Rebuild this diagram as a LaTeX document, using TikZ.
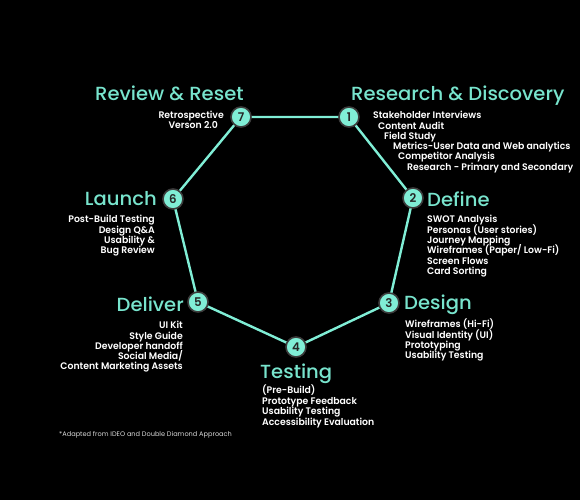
\documentclass[tikz,border=0pt]{standalone}
\usepackage{fontspec}
\setmainfont{Poppins}
\newfontfamily\headfont[FakeStretch=1.03]{Poppins Medium}
\newfontfamily\listfont[FakeStretch=0.98]{Poppins SemiBold}
\newfontfamily\notefont[FakeStretch=1.0]{Poppins}
\definecolor{aqua}{RGB}{128,238,214}
\definecolor{headc}{RGB}{120,228,205}
\definecolor{ringc}{RGB}{60,60,60}
\tikzset{
  stage/.style={circle,fill=aqua,draw=ringc,line width=1.6pt,minimum size=20pt,inner sep=0pt,font=\listfont\fontsize{12}{12}\selectfont,text=black!85},
  link/.style={aqua,line width=2.4pt},
  head/.style={inner sep=0pt,text=headc,font=\headfont\fontsize{19}{19}\selectfont},
  lst/.style={inner sep=0pt,text=white,font=\listfont\fontsize{9.5}{9.5}\selectfont},
  note/.style={inner sep=0pt,text=white!85!black,font=\notefont\fontsize{6.6}{6.6}\selectfont}
}
\begin{document}
\begin{tikzpicture}[x=1pt,y=-1pt]
\fill[black] (0,0) rectangle (580,500);
\useasboundingbox (0,0) rectangle (580,500);
% stage circles positions
\coordinate (p1) at (349,117);
\coordinate (p2) at (413,198);
\coordinate (p3) at (389,303);
\coordinate (p4) at (296,347);
\coordinate (p5) at (198,302);
\coordinate (p6) at (173,199);
\coordinate (p7) at (241,117);
\draw[link] (p1) -- (p2) -- (p3) -- (p4) -- (p5) -- (p6) -- (p7) -- cycle;
\node[stage] (s1) at (p1) {1};
\node[stage] (s2) at (p2) {2};
\node[stage] (s3) at (p3) {3};
\node[stage] (s4) at (p4) {4};
\node[stage] (s5) at (p5) {5};
\node[stage] (s6) at (p6) {6};
\node[stage] (s7) at (p7) {7};
% headings
\node[head,anchor=base west] (h1) at (351,101) {Research \& Discovery};
\node[head,anchor=base west] (h2) at (427,206) {Define};
\node[head,anchor=base west] (h3) at (404,309) {Design};
\node[head,anchor=base west] (h4) at (260,378) {Testing};
\node[head,anchor=base east] (h5) at (184,311) {Deliver};
\node[head,anchor=base east] (h6) at (157,205) {Launch};
\node[head,anchor=base west] (h7) at (95,101) {Review \& Reset};
% research list
\node[lst,anchor=base west] (r1) at (373,118) {Stakeholder Interviews};
\node[lst,anchor=base west] (r2) at (378,129) {Content Audit};
\node[lst,anchor=base west] (r3) at (384,139) {Field Study};
\node[lst,anchor=base west] (r4) at (393,149) {Metrics-User Data and Web analytics};
\node[lst,anchor=base west] (r5) at (398,159) {Competitor Analysis};
\node[lst,anchor=base west] (r6) at (407,170) {Research - Primary and Secondary};
% define list
\node[lst,anchor=base west] (d1) at (427,222.5) {SWOT Analysis};
\node[lst,anchor=base west] (d2) at (427,233) {Personas (User stories)};
\node[lst,anchor=base west] (d3) at (427,243) {Journey Mapping};
\node[lst,anchor=base west] (d4) at (427,253.5) {Wireframes (Paper/ Low-Fi)};
\node[lst,anchor=base west] (d5) at (427,264) {Screen Flows};
\node[lst,anchor=base west] (d6) at (427,274) {Card Sorting};
% design list
\node[lst,anchor=base west] (g1) at (405,327) {Wireframes (Hi-Fi)};
\node[lst,anchor=base west] (g2) at (405,338) {Visual Identity (UI)};
\node[lst,anchor=base west] (g3) at (405,348) {Prototyping};
\node[lst,anchor=base west] (g4) at (405,358) {Usability Testing};
% testing list
\node[lst,anchor=base west] (t1) at (262,393) {(Pre-Build)};
\node[lst,anchor=base west] (t2) at (262,404) {Prototype Feedback};
\node[lst,anchor=base west] (t3) at (262,414) {Usability Testing};
\node[lst,anchor=base west] (t4) at (262,425) {Accessibility Evaluation};
% deliver list
\node[lst,anchor=base east] (v1) at (183,328) {UI Kit};
\node[lst,anchor=base east] (v2) at (183,339) {Style Guide};
\node[lst,anchor=base east] (v3) at (183,349) {Developer handoff};
\node[lst,anchor=base east] (v4) at (183,359) {Social Media/};
\node[lst,anchor=base east] (v5) at (183,369) {Content Marketing Assets};
% launch list
\node[lst,anchor=base east] (l1) at (155,222) {Post-Build Testing};
\node[lst,anchor=base east] (l2) at (155,233) {Design Q\&A};
\node[lst,anchor=base east] (l3) at (155,243) {Usability \&};
\node[lst,anchor=base east] (l4) at (155,253) {Bug Review};
% review list
\node[lst,anchor=base east] (w1) at (224,118) {Retrospective};
\node[lst,anchor=base east] (w2) at (218,128.5) {Verson 2.0};
% footnote
\node[note,anchor=base west] (fn) at (59,436) {*Adapted from IDEO and Double Diamond Approach};
\end{tikzpicture}
\end{document}
